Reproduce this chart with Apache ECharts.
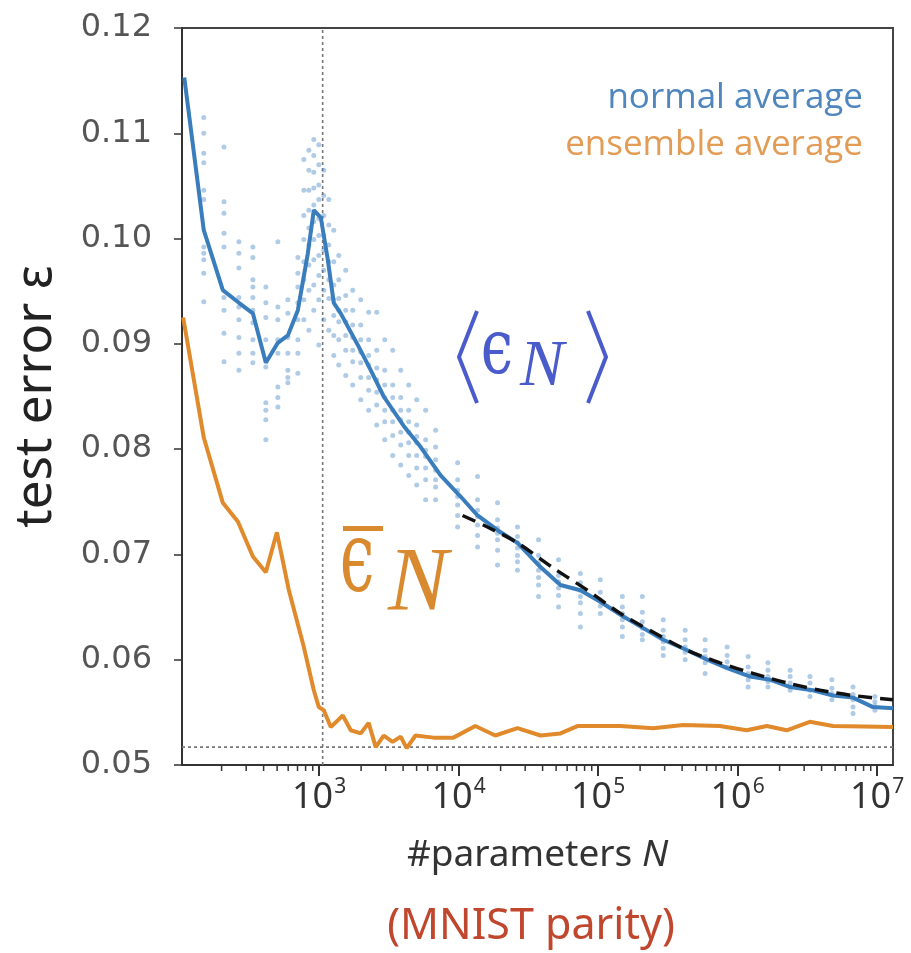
<!DOCTYPE html>
<html>
<head>
<meta charset="utf-8">
<script src="https://cdn.jsdelivr.net/npm/echarts@6/dist/echarts.min.js"></script>
<style>
html, body { margin: 0; padding: 0; background: #fff; }
#chart { width: 911px; height: 953px; }
</style>
</head>
<body>
<div id="chart"></div>
<script>
// normal average <eps_N> (blue line)
const normalN = [108, 149, 204, 266, 335, 415, 506, 597, 704, 830, 916, 1028, 1154, 1273, 1428, 1891, 2343, 2904,
  4038, 5346, 7430, 10330, 13670, 19010, 26420, 38620, 53680, 74620, 103700, 151600, 210800, 293000, 435500,
  605200, 841200, 1230000, 1710000, 2380000, 3470000, 4830000, 6720000, 9340000, 13000000]
const normalErr = [0.1153, 0.1008, 0.0951, 0.0939, 0.0929, 0.0882, 0.0901, 0.0908, 0.0932, 0.0986, 0.1027, 0.1020,
  0.0980, 0.0939, 0.0929, 0.0899, 0.0875, 0.0850, 0.0822, 0.0802, 0.0775, 0.0755, 0.0737, 0.0723, 0.0711, 0.0688,
  0.0671, 0.0666, 0.0655, 0.0641, 0.0630, 0.0619, 0.0609, 0.0600, 0.0592, 0.0584, 0.0581, 0.0574, 0.0571, 0.0566,
  0.0564, 0.0555, 0.0554]

// ensemble average (orange line)
const ensembleN = [106, 149, 204, 262, 335, 415, 498, 607, 777, 916, 995, 1080, 1212, 1478, 1685, 1987, 2265, 2546,
  2904, 3364, 3843, 4242, 4908, 6613, 9178, 13170, 18320, 26420, 38620, 53680, 71100, 144300, 248000, 407000,
  747000, 1160000, 1620000, 2250000, 3290000, 4830000, 13000000]
const ensembleErr = [0.0925, 0.0811, 0.0749, 0.0731, 0.0698, 0.0683, 0.0721, 0.0666, 0.0612, 0.0571, 0.0555, 0.0552,
  0.0536, 0.0547, 0.0533, 0.0530, 0.0540, 0.0517, 0.0528, 0.0522, 0.0527, 0.0516, 0.0528, 0.0526, 0.0526, 0.0537,
  0.0528, 0.0535, 0.0528, 0.0530, 0.0537, 0.0537, 0.0535, 0.0538, 0.0537, 0.0533, 0.0537, 0.0533, 0.0541, 0.0537,
  0.0536]

// large-N fit (black dashed)
const fitN = [10670, 16100, 26420, 47860, 83750, 144300, 248900, 434500, 748000, 1290000, 2260000, 3910000, 6720000, 13000000]
const fitErr = [0.0737, 0.0726, 0.0711, 0.0687, 0.0666, 0.0644, 0.0626, 0.0609, 0.0597, 0.0587, 0.0578, 0.0571, 0.0566, 0.0562]

// individual runs, one column per N
const runCols = [
  [149, [0.1115, 0.1100, 0.1081, 0.1072, 0.1046, 0.1037, 0.0992, 0.0986, 0.0980, 0.0967, 0.0940]],
  [208, [0.1087, 0.1035, 0.1024, 0.1005, 0.0992, 0.0944, 0.0932, 0.0910, 0.0883]],
  [266, [0.0997, 0.0986, 0.0972, 0.0944, 0.0935, 0.0923, 0.0906, 0.0891, 0.0875]],
  [335, [0.0992, 0.0982, 0.0961, 0.0954, 0.0944, 0.0932, 0.0920, 0.0904, 0.0891, 0.0882]],
  [415, [0.0954, 0.0939, 0.0925, 0.0904, 0.0878, 0.0844, 0.0837, 0.0828, 0.0809]],
  [506, [0.0997, 0.0935, 0.0923, 0.0904, 0.0891, 0.0859, 0.0849, 0.0840]],
  [597, [0.0942, 0.0929, 0.0906, 0.0891, 0.0875, 0.0868, 0.0863]],
  [704, [0.0982, 0.0967, 0.0954, 0.0939, 0.0923, 0.0904, 0.0891, 0.0872]],
  [777, [0.1075, 0.1046, 0.1022, 0.0999, 0.0978, 0.0961, 0.0942, 0.0923]],
  [844, [0.1084, 0.1065, 0.1046, 0.1027, 0.1010, 0.0994, 0.0975, 0.0951, 0.0913]],
  [916, [0.1094, 0.1079, 0.1063, 0.1048, 0.1032, 0.1016, 0.0999, 0.0980, 0.0956, 0.0932]],
  [995, [0.1089, 0.1070, 0.1051, 0.1037, 0.1019, 0.1003, 0.0984, 0.0965, 0.0942, 0.0899]],
  [1080, [0.1065, 0.1041, 0.1022, 0.1003, 0.0989, 0.0970, 0.0951, 0.0923]],
  [1173, [0.1037, 0.1013, 0.0994, 0.0978, 0.0961, 0.0943, 0.0913]],
  [1274, [0.1008, 0.0978, 0.0956, 0.0942, 0.0927, 0.0908, 0.0889]],
  [1383, [0.0984, 0.0961, 0.0943, 0.0932, 0.0921, 0.0904, 0.0880]],
  [1552, [0.0970, 0.0946, 0.0932, 0.0921, 0.0908, 0.0894, 0.0870]],
  [1742, [0.0951, 0.0932, 0.0918, 0.0906, 0.0894, 0.0883, 0.0861]],
  [1988, [0.0942, 0.0918, 0.0904, 0.0892, 0.0882, 0.0868, 0.0847]],
  [2266, [0.0930, 0.0904, 0.0889, 0.0880, 0.0868, 0.0856, 0.0837]],
  [2588, [0.0930, 0.0894, 0.0877, 0.0866, 0.0854, 0.0842, 0.0823]],
  [2953, [0.0904, 0.0875, 0.0861, 0.0849, 0.0837, 0.0826, 0.0809]],
  [3370, [0.0894, 0.0861, 0.0849, 0.0837, 0.0826, 0.0813, 0.0794]],
  [3846, [0.0875, 0.0849, 0.0837, 0.0828, 0.0816, 0.0804, 0.0785]],
  [4388, [0.0861, 0.0837, 0.0826, 0.0816, 0.0806, 0.0794, 0.0775]],
  [5006, [0.0847, 0.0823, 0.0812, 0.0806, 0.0794, 0.0782, 0.0766]],
  [5802, [0.0837, 0.0809, 0.0799, 0.0793, 0.0782, 0.0771, 0.0752]],
  [6840, [0.0818, 0.0802, 0.0790, 0.0780, 0.0771, 0.0764, 0.0752]],
  [9840, [0.0787, 0.0771, 0.0761, 0.0755, 0.0747, 0.0737, 0.0726]],
  [13670, [0.0774, 0.0752, 0.0742, 0.0736, 0.0728, 0.0718, 0.0707]],
  [19010, [0.0749, 0.0733, 0.0725, 0.0720, 0.0714, 0.0704, 0.0690]],
  [26420, [0.0726, 0.0717, 0.0711, 0.0706, 0.0699, 0.0693, 0.0685]],
  [37410, [0.0714, 0.0699, 0.0692, 0.0685, 0.0678, 0.0671, 0.0660]],
  [52030, [0.0695, 0.0680, 0.0674, 0.0668, 0.0661, 0.0650]],
  [74620, [0.0682, 0.0673, 0.0666, 0.0660, 0.0654, 0.0644, 0.0631]],
  [103700, [0.0676, 0.0664, 0.0657, 0.0651, 0.0644]],
  [149200, [0.0660, 0.0650, 0.0644, 0.0638, 0.0631, 0.0622]],
  [207500, [0.0660, 0.0645, 0.0636, 0.0630, 0.0624, 0.0619]],
  [293000, [0.0638, 0.0628, 0.0622, 0.0617, 0.0611, 0.0604]],
  [420700, [0.0628, 0.0619, 0.0612, 0.0607, 0.0600]],
  [584900, [0.0619, 0.0609, 0.0603, 0.0597, 0.0587]],
  [841200, [0.0612, 0.0604, 0.0598, 0.0593]],
  [1190000, [0.0603, 0.0593, 0.0587, 0.0581, 0.0574]],
  [1650000, [0.0597, 0.0590, 0.0584, 0.0579, 0.0574]],
  [2380000, [0.0590, 0.0584, 0.0578, 0.0571]],
  [3300000, [0.0584, 0.0578, 0.0571, 0.0565]],
  [4740000, [0.0581, 0.0573, 0.0568, 0.0562]],
  [6720000, [0.0574, 0.0567, 0.0562, 0.0555, 0.0549]],
  [9640000, [0.0565, 0.0560, 0.0556, 0.0552]]
]

const criticalN = 1060
const floorErr = 0.0517
const xMin = 104
const xMax = 1.3e7
const yMin = 0.05
const yMax = 0.12
const majorTicks = [1e3, 1e4, 1e5, 1e6, 1e7]

const minorTicks = []
for (let d = 100; d < 1e7; d *= 10) {
  for (let k = 2; k <= 9; k++) minorTicks.push(k * d)
}

const zip = (xs, ys) => xs.map((x, i) => [x, ys[i]])
const runPoints = []
runCols.forEach(([n, vals]) => vals.forEach(v => runPoints.push([n, v])))

const BLUE = '#3a7dbd'
const ORANGE = '#e08a2c'
const GUIDE = { color: '#777', width: 1.6, type: [3, 3] }
const ANNO_BLUE = '#4a5ccb'
const ANNO_ORANGE = '#d98a2e'

const chart = echarts.init(document.getElementById('chart'), null, { renderer: 'canvas' })

chart.setOption({
  animation: false,
  backgroundColor: '#fff',
  grid: {
    left: 182, right: 18, top: 28, bottom: 188,
    show: true, borderColor: '#444', borderWidth: 2,
    containLabel: false, outerBoundsMode: 'none'
  },
  legend: {
    orient: 'vertical',
    right: 38,
    top: 76,
    align: 'right',
    itemWidth: 0,
    itemHeight: 34,
    itemGap: 12,
    selectedMode: false,
    textStyle: { fontFamily: 'Open Sans', fontSize: 35 },
    data: [
      { name: 'normal average', icon: 'none', textStyle: { color: '#4f86bd' } },
      { name: 'ensemble average', icon: 'none', textStyle: { color: '#e29c55' } }
    ]
  },
  xAxis: [
    {
      type: 'log',
      logBase: 10,
      min: xMin,
      max: xMax,
      position: 'bottom',
      name: '#parameters {i|N}',
      nameLocation: 'middle',
      nameGap: 72,
      nameTextStyle: {
        fontFamily: 'Noto Sans', fontSize: 37, color: '#333',
        rich: { i: { fontFamily: 'Noto Sans', fontSize: 37, fontStyle: 'italic', color: '#333' } }
      },
      axisLine: { show: true, lineStyle: { color: '#333', width: 2 } },
      axisTick: { show: true, length: 11, customValues: majorTicks, lineStyle: { color: '#333', width: 2 } },
      axisLabel: {
        customValues: majorTicks,
        margin: 12,
        formatter: v => '{b|10}{s|' + Math.round(Math.log10(v)) + '}',
        rich: {
          b: { fontFamily: 'Noto Sans', fontSize: 36, color: '#333', lineHeight: 42 },
          s: { fontFamily: 'Noto Sans', fontSize: 21, color: '#333', verticalAlign: 'top', padding: [0, 0, 0, 1] }
        }
      },
      splitLine: { show: false }
    }
  ],
  yAxis: {
    type: 'value',
    min: yMin,
    max: yMax,
    interval: 0.01,
    name: 'test error ε',
    nameLocation: 'middle',
    nameGap: 120,
    nameRotate: 90,
    nameTextStyle: { fontFamily: 'Noto Sans', fontSize: 51, color: '#222' },
    axisLine: { show: true, lineStyle: { color: '#333', width: 2 } },
    axisTick: { show: true, length: 8, lineStyle: { color: '#333', width: 1.5 } },
    axisLabel: {
      margin: 30,
      fontFamily: 'DejaVu Sans',
      fontSize: 32,
      color: '#555',
      formatter: v => v.toFixed(2)
    },
    splitLine: { show: false }
  },
  series: [
    {
      // minor log ticks below the bottom spine
      name: 'minor ticks',
      type: 'custom',
      silent: true,
      clip: false,
      data: minorTicks.map(v => [v, yMin]),
      renderItem: (params, api) => {
        const p = api.coord([api.value(0), api.value(1)])
        return {
          type: 'line',
          shape: { x1: p[0], y1: p[1], x2: p[0], y2: p[1] + 6 },
          style: { stroke: '#333', lineWidth: 1.5 }
        }
      }
    },
    {
      name: 'critical N',
      type: 'line',
      data: [[criticalN, yMin], [criticalN, yMax]],
      showSymbol: false,
      silent: true,
      z: 1,
      lineStyle: GUIDE
    },
    {
      name: 'floor',
      type: 'line',
      data: [[xMin, floorErr], [xMax, floorErr]],
      showSymbol: false,
      silent: true,
      z: 1,
      lineStyle: GUIDE
    },
    {
      name: 'runs',
      type: 'scatter',
      data: runPoints,
      symbolSize: 5,
      silent: true,
      z: 2,
      itemStyle: { color: 'rgba(58,125,189,0.5)' }
    },
    {
      name: 'normal average',
      type: 'line',
      data: zip(normalN, normalErr),
      showSymbol: false,
      z: 3,
      lineStyle: { color: BLUE, width: 4 },
      itemStyle: { color: BLUE }
    },
    {
      name: 'ensemble average',
      type: 'line',
      data: zip(ensembleN, ensembleErr),
      showSymbol: false,
      z: 3,
      lineStyle: { color: ORANGE, width: 4 },
      itemStyle: { color: ORANGE }
    },
    {
      name: 'fit',
      type: 'line',
      data: zip(fitN, fitErr),
      smooth: 0.3,
      showSymbol: false,
      z: 4,
      lineStyle: { color: '#111', width: 3.5, type: [14, 8] }
    }
  ],
  graphic: [
    // <eps_N>
    { type: 'polyline', shape: { points: [[477, 311], [459, 357], [477, 403]] }, style: { stroke: ANNO_BLUE, lineWidth: 4, fill: null } },
    { type: 'text', x: 497, y: 353, scaleX: 0.75, style: { text: 'ϵ', font: '77px "DejaVu Serif"', fill: ANNO_BLUE, textAlign: 'center', textVerticalAlign: 'middle' } },
    { type: 'text', x: 542, y: 368, style: { text: 'N', font: 'italic 66px "Liberation Serif"', fill: ANNO_BLUE, textAlign: 'center', textVerticalAlign: 'middle' } },
    { type: 'polyline', shape: { points: [[588, 311], [606, 357], [588, 403]] }, style: { stroke: ANNO_BLUE, lineWidth: 4, fill: null } },
    // bar eps_N
    { type: 'rect', shape: { x: 343, y: 526, width: 40, height: 5 }, style: { fill: ANNO_ORANGE } },
    { type: 'text', x: 357, y: 565, scaleX: 0.62, style: { text: 'ϵ', font: '100px "DejaVu Serif"', fill: ANNO_ORANGE, textAlign: 'center', textVerticalAlign: 'middle' } },
    { type: 'text', x: 418, y: 586, style: { text: 'N', font: 'italic 90px "Liberation Serif"', fill: ANNO_ORANGE, textAlign: 'center', textVerticalAlign: 'middle' } },
    // subtitle
    { type: 'text', x: 531, y: 927, style: { text: '(MNIST parity)', font: '43px "Noto Sans"', fill: '#c0472d', textAlign: 'center', textVerticalAlign: 'middle' } }
  ]
})
</script>
</body>
</html>
